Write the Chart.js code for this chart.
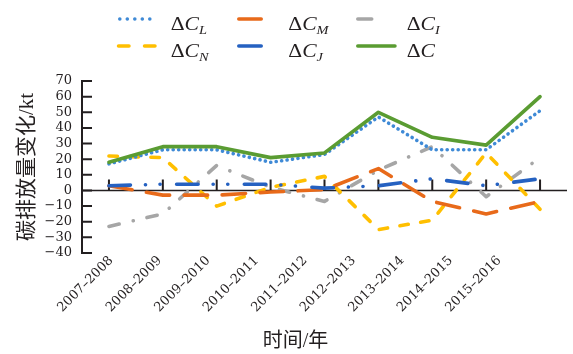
<!DOCTYPE html>
<html>
<head>
<meta charset="utf-8">
<script src="https://cdn.jsdelivr.net/npm/chart.js@4/dist/chart.umd.min.js"></script>
<style>
  html, body { margin: 0; padding: 0; background: #ffffff; }
  #wrap { position: relative; width: 573px; height: 354px; }
  #c { position: absolute; left: 0; top: 0; }
  #legend { position: absolute; left: 0; top: 0; }
</style>
</head>
<body>
<div id="wrap">
  <canvas id="c" width="573" height="354"></canvas>
  <svg id="legend" width="573" height="70" xmlns="http://www.w3.org/2000/svg"></svg>
</div>
<script>
// ---- data ----
const categories = ['2007–2008', '2008–2009', '2009–2010', '2010–2011', '2011–2012', '2012–2013', '2013–2014', '2014–2015', '2015–2016'];
const seriesNames = ['ΔC_L', 'ΔC_M', 'ΔC_I', 'ΔC_N', 'ΔC_J', 'ΔC'];
const dCL = [17, 26, 26, 18, 23, 47, 26, 26, 51];
const dCM = [3, -3, -3, -1, 0.5, 14, -7, -15, -7];
const dCI = [-23, -15, 16, 2, -7, 13, 28, -4, 21];
const dCN = [22, 21, -10, 2, 9, -25, -19, 24, -12];
const dCJ = [3, 4, 4, 4, 1.5, 3, 7.5, 3, 7.5];
const dC  = [18, 28, 28, 21, 24, 50, 34, 29, 60];
const yTickLabels = ['−40', '−30', '−20', '−10', '0', '10', '20', '30', '40', '50', '60', '70'];
const yTitle = '碳排放量变化/kt';
const xTitle = '时间/年';

// ---- styles ----
const styles = [
  { color: '#3f8ad6', dash: [0.1, 5.4], lgDash: '0.1 7.4', order: 1 },
  { color: '#e86a1a', dash: [23.5, 14.5], lgDash: null, order: 3 },
  { color: '#a6a6a6', dash: [10.5, 14.4, 0.1, 14], lgDash: '14 13 0.1 30', order: 5 },
  { color: '#ffbf00', dash: [8.5, 12.5], lgDash: '10.5 15.5', order: 4 },
  { color: '#2561c1', dash: [21.5, 15, 0.1, 14.5, 0.1, 16.5], lgDash: null, order: 2 },
  { color: '#5a9c32', dash: [], lgDash: null, order: 0 }
];
const seriesData = [dCL, dCM, dCI, dCN, dCJ, dC];

const datasets = seriesData.map((d, i) => ({
  label: seriesNames[i],
  data: d,
  borderColor: styles[i].color,
  backgroundColor: styles[i].color,
  borderWidth: 3.6,
  borderDash: styles[i].dash,
  borderCapStyle: 'round',
  borderJoinStyle: 'round',
  pointRadius: 0,
  pointHoverRadius: 0,
  tension: 0,
  fill: false,
  order: styles[i].order
}));

const ink = '#231f20';
const serif = "'DejaVu Serif', 'Liberation Serif', serif";
const cjk = "'Liberation Serif', 'Noto Sans CJK SC', serif";

const axisMarks = {
  id: 'axisMarks',
  beforeDatasetsDraw(chart) {
    const { ctx, chartArea, scales } = chart;
    const x = scales.x, y = scales.y;
    const y0 = y.getPixelForValue(0);
    ctx.save();
    ctx.strokeStyle = ink;
    ctx.lineWidth = 1.6;
    ctx.beginPath();
    ctx.moveTo(chartArea.left, y0);
    ctx.lineTo(chartArea.right, y0);
    ctx.stroke();
    ctx.lineWidth = 2;
    ctx.beginPath();
    categories.forEach((c, i) => {
      const px = x.getPixelForValue(i);
      ctx.moveTo(px, y0);
      ctx.lineTo(px, y0 - 11);
    });
    y.ticks.forEach(t => {
      const py = y.getPixelForValue(t.value);
      ctx.moveTo(chartArea.left, py);
      ctx.lineTo(chartArea.left + 10, py);
    });
    ctx.stroke();
    ctx.restore();
  }
};

const chart = new Chart(document.getElementById('c'), {
  type: 'line',
  data: { labels: categories, datasets },
  plugins: [axisMarks],
  options: {
    responsive: false,
    animation: false,
    devicePixelRatio: 1,
    layout: { padding: { top: 81, left: 24, right: 6, bottom: 0 } },
    plugins: {
      legend: { display: false },
      tooltip: { enabled: false },
      title: {
        display: true,
        position: 'bottom',
        text: xTitle,
        color: ink,
        font: { family: cjk, size: 20, weight: 'normal', lineHeight: 1.2 },
        padding: { top: 0, bottom: 0 }
      }
    },
    scales: {
      x: {
        type: 'category',
        offset: true,
        display: false
      },
      xl: {
        type: 'category',
        position: 'bottom',
        labels: [...categories, ''],
        offset: true,
        grid: { display: false, drawTicks: false },
        border: { display: false },
        ticks: {
          autoSkip: false,
          minRotation: 45,
          maxRotation: 45,
          padding: 0,
          labelOffset: 5,
          color: ink,
          font: { family: serif, size: 13 }
        },
        afterFit(scale) { scale.height = 77; }
      },
      y: {
        min: -40,
        max: 70,
        grid: { display: false, drawTicks: false },
        border: { display: true, color: ink, width: 2 },
        ticks: {
          stepSize: 10,
          autoSkip: false,
          maxTicksLimit: 20,
          padding: 10,
          color: ink,
          font: { family: serif, size: 13 },
          callback: (v) => yTickLabels[Math.round((v + 40) / 10)]
        },
        title: {
          display: true,
          text: yTitle,
          color: ink,
          font: { family: cjk, size: 21, weight: 'normal', lineHeight: 1.2 },
          padding: { top: -9, bottom: 0 }
        },
        afterFit(scale) { scale.width = 58; }
      }
    }
  }
});

// ---- legend (SVG text, built from the series definitions) ----
const svgNS = 'http://www.w3.org/2000/svg';
const lg = document.getElementById('legend');
const colX = [118, 237, 356];
const colLen = [38, 26, 40];
const textX = [170.7, 288.3, 406.7];
const rowY = [19, 46];
const rowBase = [29.5, 57];
const legendOrder = [0, 1, 2, 3, 4, 5]; // row-major, 3 per row
legendOrder.forEach((si, k) => {
  const r = Math.floor(k / 3), c = k % 3;
  const st = styles[si];
  const ln = document.createElementNS(svgNS, 'line');
  let x1 = colX[c] + 1.75, x2 = colX[c] + colLen[c] - 1.75;
  if (si === 3) { x1 = 118.5; x2 = 155; }
  if (si === 2) { x1 = 357.75; x2 = 384; }
  if (si === 5) { x1 = 357.75; x2 = 395; }
  ln.setAttribute('x1', x1); ln.setAttribute('x2', x2);
  ln.setAttribute('y1', rowY[r]); ln.setAttribute('y2', rowY[r]);
  ln.setAttribute('stroke', st.color);
  ln.setAttribute('stroke-width', 3.5);
  ln.setAttribute('stroke-linecap', 'round');
  if (st.lgDash) ln.setAttribute('stroke-dasharray', st.lgDash);
  lg.appendChild(ln);

  const name = seriesNames[si];
  const parts = name.split('_');
  const tx = document.createElementNS(svgNS, 'text');
  tx.setAttribute('transform', `translate(${textX[c]},${rowBase[r]}) scale(1.2,1)`);
  tx.setAttribute('font-family', 'Liberation Serif, serif');
  tx.setAttribute('font-size', '18');
  tx.setAttribute('fill', ink);
  const base = parts[0];
  const t1 = document.createElementNS(svgNS, 'tspan');
  t1.textContent = base.slice(0, 1);
  tx.appendChild(t1);
  const t2 = document.createElementNS(svgNS, 'tspan');
  t2.setAttribute('font-style', 'italic');
  t2.textContent = base.slice(1);
  tx.appendChild(t2);
  if (parts[1]) {
    const t3 = document.createElementNS(svgNS, 'tspan');
    t3.setAttribute('font-style', 'italic');
    t3.setAttribute('font-size', '12');
    t3.setAttribute('dy', '4');
    t3.textContent = parts[1];
    tx.appendChild(t3);
  }
  lg.appendChild(tx);
});
</script>
</body>
</html>
